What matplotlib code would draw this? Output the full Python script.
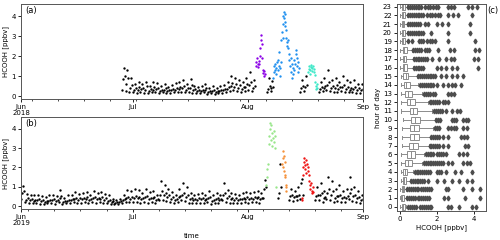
import numpy as np
import pandas as pd
import matplotlib
matplotlib.use('Agg')
import matplotlib.pyplot as plt
import matplotlib.dates as mdates

# ---- data (days counted from 1 June) ----
hours_of_sample = [3, 9, 15, 21]

black_2018_days = list(range(27, 63)) + [66, 67, 75, 76] + list(range(80, 92))
black_2018 = [
    [0.30, 0.85, 1.40, 1.00], [0.25, 0.60, 1.30, 0.90], [0.20, 0.40, 0.90, 0.55],
    [0.18, 0.30, 0.60, 0.40], [0.15, 0.30, 0.70, 0.45], [0.20, 0.35, 0.60, 0.40],
    [0.15, 0.30, 0.70, 0.50], [0.15, 0.25, 0.50, 0.35], [0.20, 0.30, 0.70, 0.45],
    [0.20, 0.35, 0.65, 0.40], [0.15, 0.25, 0.50, 0.30], [0.18, 0.30, 0.60, 0.40],
    [0.15, 0.25, 0.45, 0.30], [0.15, 0.30, 0.55, 0.35], [0.20, 0.30, 0.65, 0.40],
    [0.20, 0.35, 0.70, 0.45], [0.20, 0.40, 0.80, 0.50], [0.18, 0.30, 0.60, 0.40],
    [0.20, 0.40, 0.85, 0.55], [0.15, 0.30, 0.50, 0.35], [0.15, 0.25, 0.45, 0.30],
    [0.15, 0.25, 0.50, 0.30], [0.18, 0.30, 0.60, 0.40], [0.12, 0.20, 0.40, 0.25],
    [0.15, 0.25, 0.50, 0.30], [0.12, 0.20, 0.40, 0.25], [0.15, 0.25, 0.50, 0.30],
    [0.15, 0.30, 0.55, 0.35], [0.20, 0.35, 0.70, 0.45], [0.25, 0.50, 1.00, 0.65],
    [0.30, 0.45, 0.90, 0.60], [0.25, 0.40, 0.80, 0.55], [0.20, 0.35, 0.70, 0.45],
    [0.25, 0.45, 0.90, 0.60], [0.30, 0.55, 1.20, 0.70], [0.25, 0.40, 0.80, 0.50],
    [0.20, 0.35, 0.90, 0.50], [0.25, 0.40, 0.75, 0.45],
    [0.20, 0.40, 0.80, 0.50], [0.25, 0.45, 1.00, 0.55],
    [0.20, 0.35, 0.70, 0.45], [0.25, 0.40, 0.90, 0.50], [0.30, 0.55, 1.30, 0.70],
    [0.25, 0.40, 0.80, 0.50], [0.20, 0.40, 0.90, 0.55], [0.20, 0.35, 0.70, 0.45],
    [0.25, 0.45, 1.00, 0.55], [0.20, 0.35, 0.80, 0.45], [0.18, 0.30, 0.70, 0.40],
    [0.20, 0.35, 0.80, 0.45], [0.15, 0.30, 0.60, 0.40], [0.15, 0.30, 0.60, 0.35],
]

purple_2018_days = [63.2, 63.35, 63.5, 63.65, 63.8, 63.95, 64.1, 64.25, 64.4,
                    64.5, 64.6, 64.7, 64.85, 65.0, 65.15, 65.3, 65.45, 65.6]
purple_2018 = [1.5, 1.7, 1.9, 1.6, 1.45, 1.75, 1.6, 2.0, 2.4,
               2.8, 3.05, 2.6, 1.9, 1.3, 1.15, 1.0, 1.25, 1.1]

blue_2018_days = [67.8, 67.95, 68.1, 68.25, 68.4, 68.55, 68.7, 68.85, 69.0, 69.15,
                  69.3, 69.45, 69.6, 69.75, 69.9, 70.05, 70.2, 70.35, 70.5, 70.6,
                  70.7, 70.8, 70.9, 71.0, 71.1, 71.2, 71.3, 71.45, 71.6, 71.75,
                  71.9, 72.05, 72.2, 72.35, 72.5, 72.65, 72.8, 72.95, 73.1, 73.25,
                  73.4, 73.55, 73.7, 73.85, 74.0, 74.15, 74.3, 74.45, 74.6, 74.75]
blue_2018 = [0.9, 1.2, 1.5, 1.3, 1.6, 1.1, 1.4, 1.7, 1.3, 1.8,
             2.2, 1.5, 1.0, 1.4, 1.7, 2.8, 3.2, 2.9, 3.6, 4.0,
             4.2, 3.9, 4.1, 3.7, 3.5, 3.3, 2.9, 2.7, 2.5, 2.8,
             2.4, 2.1, 1.8, 1.5, 1.9, 1.2, 0.9, 1.6, 1.4, 1.1,
             1.8, 1.3, 1.6, 2.1, 2.3, 1.9, 1.5, 1.7, 1.2, 1.4]

cyan_2018_days = [77.2, 77.35, 77.5, 77.65, 77.8, 77.95, 78.1, 78.25, 78.4,
                  78.55, 78.7, 78.85, 79.0, 79.15, 79.3, 79.45, 79.6, 79.75]
cyan_2018 = [1.2, 1.35, 1.5, 1.3, 1.1, 1.45, 1.55, 1.4, 1.25,
             1.5, 1.35, 1.2, 1.05, 0.7, 0.5, 0.35, 0.6, 0.4]

black_2019_days = list(range(0, 66)) + [69, 72, 73, 74, 75] + list(range(79, 92))
black_2019 = [
    [0.35, 0.70, 1.05, 0.80], [0.20, 0.30, 0.65, 0.40], [0.15, 0.30, 0.60, 0.35],
    [0.15, 0.25, 0.55, 0.30], [0.15, 0.30, 0.60, 0.35], [0.12, 0.25, 0.50, 0.30],
    [0.12, 0.20, 0.45, 0.25], [0.15, 0.25, 0.55, 0.30], [0.15, 0.30, 0.60, 0.35],
    [0.12, 0.25, 0.50, 0.30], [0.20, 0.40, 0.85, 0.50], [0.12, 0.20, 0.40, 0.25],
    [0.15, 0.25, 0.55, 0.30], [0.15, 0.30, 0.60, 0.35], [0.20, 0.35, 0.75, 0.40],
    [0.15, 0.30, 0.65, 0.40], [0.18, 0.35, 0.70, 0.40], [0.20, 0.35, 0.75, 0.45],
    [0.15, 0.30, 0.60, 0.35], [0.20, 0.40, 0.80, 0.45], [0.18, 0.35, 0.70, 0.40],
    [0.20, 0.35, 0.75, 0.45], [0.15, 0.30, 0.65, 0.40], [0.15, 0.25, 0.55, 0.30],
    [0.12, 0.20, 0.35, 0.25], [0.12, 0.18, 0.30, 0.22], [0.12, 0.20, 0.35, 0.25],
    [0.15, 0.30, 0.60, 0.35], [0.20, 0.40, 0.85, 0.45], [0.20, 0.35, 0.80, 0.45],
    [0.20, 0.40, 0.90, 0.50], [0.20, 0.40, 0.85, 0.45], [0.18, 0.35, 0.70, 0.40],
    [0.20, 0.45, 0.90, 0.50], [0.18, 0.35, 0.75, 0.40], [0.20, 0.40, 0.80, 0.45],
    [0.15, 0.30, 0.60, 0.35], [0.30, 0.60, 1.30, 0.80], [0.30, 0.55, 1.10, 0.70],
    [0.25, 0.45, 0.90, 0.55], [0.20, 0.35, 0.75, 0.45], [0.15, 0.30, 0.60, 0.35],
    [0.20, 0.45, 0.90, 0.50], [0.30, 0.55, 1.20, 0.70], [0.25, 0.45, 1.00, 0.60],
    [0.18, 0.35, 0.70, 0.40], [0.15, 0.30, 0.60, 0.35], [0.15, 0.30, 0.65, 0.40],
    [0.18, 0.35, 0.70, 0.40], [0.15, 0.30, 0.60, 0.35], [0.20, 0.40, 0.80, 0.45],
    [0.12, 0.25, 0.55, 0.30], [0.18, 0.35, 0.70, 0.40], [0.15, 0.30, 0.60, 0.35],
    [0.30, 0.55, 1.20, 0.70], [0.20, 0.40, 0.85, 0.50], [0.18, 0.35, 0.70, 0.40],
    [0.15, 0.30, 0.65, 0.40], [0.15, 0.30, 0.60, 0.35], [0.18, 0.35, 0.70, 0.40],
    [0.20, 0.35, 0.75, 0.45], [0.18, 0.35, 0.70, 0.40], [0.20, 0.35, 0.75, 0.45],
    [0.20, 0.40, 0.80, 0.45], [0.18, 0.35, 0.70, 0.40], [0.40, 0.90, 1.35, 1.00],
    [0.40, 0.70, 2.20, 1.00],
    [0.30, 0.50, 0.90, 0.60], [0.25, 0.45, 0.80, 0.50], [0.30, 0.50, 1.00, 0.60],
    [0.35, 1.20, 1.40, 0.60],
    [0.30, 0.50, 1.00, 0.60], [0.30, 0.55, 1.20, 0.70], [0.20, 0.40, 0.80, 0.45],
    [0.35, 0.70, 1.50, 0.90], [0.30, 0.60, 1.30, 0.80], [0.20, 0.40, 0.90, 0.50],
    [0.25, 0.50, 1.10, 0.60], [0.20, 0.40, 0.80, 0.45], [0.20, 0.40, 0.90, 0.50],
    [0.35, 0.70, 1.50, 0.90], [0.25, 0.50, 1.00, 0.60], [0.20, 0.40, 0.80, 0.45],
    [0.15, 0.30, 0.60, 0.35],
]

green_2019_days = [66.0, 66.15, 66.3, 66.45, 66.6, 66.75, 66.9, 67.05, 67.2,
                   67.35, 67.5, 67.65, 67.8, 67.95, 68.1, 68.25, 68.4, 68.55]
green_2019 = [1.1, 1.5, 1.9, 2.2, 3.2, 3.6, 4.3, 4.0, 3.4,
              4.2, 3.8, 3.1, 3.5, 3.9, 3.3, 3.0, 3.6, 1.0]

orange_2019_days = [70.3, 70.4, 70.5, 70.6, 70.7, 70.8, 70.9, 71.0, 71.1, 71.2, 71.3, 71.4]
orange_2019 = [2.2, 2.85, 2.5, 2.0, 2.6, 1.8, 1.6, 2.3, 1.5, 1.0, 0.8, 1.1]

red_2019_days = [75.5, 75.6, 75.75, 75.9, 76.05, 76.2, 76.35, 76.5, 76.65, 76.8, 76.95,
                 77.1, 77.25, 77.4, 77.55, 77.7, 77.85, 78.0, 78.15, 78.3, 78.45, 78.6]
red_2019 = [0.3, 0.4, 1.6, 2.0, 2.5, 2.3, 1.9, 2.1, 1.7, 2.4, 2.2,
            1.8, 2.0, 1.6, 1.3, 1.1, 0.9, 1.2, 0.8, 0.7, 1.0, 0.75]

# hour-of-day box statistics
box_hours = list(range(24))
box_q1 = [0.10, 0.08, 0.09, 0.14, 0.18, 0.27, 0.40, 0.50, 0.54, 0.54, 0.58, 0.52,
          0.36, 0.27, 0.20, 0.18, 0.15, 0.15, 0.15, 0.11, 0.10, 0.10, 0.10, 0.09]
box_med = [0.17, 0.13, 0.15, 0.22, 0.28, 0.42, 0.58, 0.70, 0.75, 0.78, 0.80, 0.72,
           0.55, 0.42, 0.33, 0.30, 0.24, 0.23, 0.23, 0.17, 0.16, 0.15, 0.15, 0.15]
box_q3 = [0.25, 0.20, 0.23, 0.32, 0.40, 0.63, 0.80, 0.95, 1.05, 1.05, 1.08, 0.94,
          0.81, 0.63, 0.55, 0.45, 0.36, 0.35, 0.36, 0.26, 0.25, 0.24, 0.25, 0.27]
box_lo = [0.02, 0.02, 0.02, 0.03, 0.04, 0.05, 0.08, 0.10, 0.12, 0.12, 0.14, 0.06,
          0.04, 0.03, 0.03, 0.03, 0.02, 0.02, 0.02, 0.02, 0.02, 0.02, 0.02, 0.02]
box_hi = [0.35, 0.32, 0.35, 0.55, 0.70, 1.20, 1.30, 1.55, 1.60, 1.80, 1.90, 1.75,
          1.50, 1.20, 1.00, 0.90, 0.68, 0.70, 0.63, 0.42, 0.40, 0.38, 0.38, 0.40]
box_fliers = [
    [0.45, 0.55, 0.65, 0.75, 0.85, 1.1, 1.2, 1.3, 1.4, 1.5, 1.6, 1.7, 2.6, 2.75, 3.2, 3.9, 4.1],
    [0.4, 0.5, 0.6, 0.7, 0.8, 0.95, 1.05, 1.15, 1.25, 1.35, 1.45, 1.55, 2.4, 2.6, 3.5, 4.3],
    [0.4, 0.5, 0.6, 0.7, 0.8, 0.9, 1.0, 1.15, 1.25, 1.35, 1.45, 1.55, 1.7, 2.5, 2.6, 3.4, 3.9, 4.3],
    [0.6, 0.7, 0.8, 0.9, 1.0, 1.1, 1.2, 1.3, 1.5, 2.0, 2.4, 2.8, 3.2, 3.6, 3.9],
    [0.8, 0.9, 1.0, 1.1, 1.2, 1.3, 1.4, 1.5, 1.6, 2.0, 2.1, 2.2, 2.5, 3.0, 3.3, 3.9],
    [1.3, 1.4, 1.5, 1.6, 1.7, 1.8, 1.9, 2.0, 2.1, 2.2, 2.3, 2.6, 2.8, 3.4, 3.6, 3.8],
    [1.4, 1.5, 1.6, 1.7, 1.8, 2.0, 2.1, 2.2, 2.3, 2.5, 3.2, 3.4, 3.6],
    [1.6, 1.7, 1.8, 1.9, 2.0, 2.1, 2.3, 2.6, 3.5, 3.7],
    [1.7, 1.8, 1.9, 2.0, 2.1, 2.3, 2.6, 3.3, 3.45, 3.6],
    [1.9, 2.0, 2.1, 2.6, 2.75, 2.9, 3.05, 3.4, 3.6],
    [1.95, 2.05, 2.15, 2.8, 2.9, 3.05, 3.4, 3.55, 3.7],
    [1.85, 1.95, 2.05, 2.15, 2.25, 2.5, 2.8, 3.1, 3.25],
    [1.6, 1.7, 1.8, 1.9, 2.0, 2.1, 2.3, 2.45, 2.6],
    [1.3, 1.4, 1.5, 1.6, 1.8, 1.9, 2.6, 2.75, 2.9],
    [1.1, 1.2, 1.3, 1.4, 1.5, 1.6, 1.7, 1.8, 2.0, 2.3, 2.6, 2.8, 3.0, 3.3],
    [1.0, 1.1, 1.2, 1.3, 1.4, 1.5, 1.6, 1.7, 1.8, 1.9, 2.2, 2.5, 2.8, 3.1, 3.4],
    [0.75, 0.85, 0.95, 1.05, 1.15, 1.25, 2.0, 2.2, 2.5, 2.8, 3.1, 4.2],
    [0.75, 0.85, 0.95, 1.05, 1.15, 1.25, 1.35, 1.45, 1.75, 2.1, 2.5, 2.75, 2.9, 4.0, 4.2],
    [0.72, 0.82, 0.92, 1.02, 1.12, 1.35, 1.45, 1.55, 2.07, 2.7, 2.9, 4.05, 4.25],
    [0.45, 0.63, 1.05, 1.15, 1.26, 1.45, 1.6, 1.75, 1.9, 2.6, 4.05],
    [0.45, 0.55, 0.65, 0.75, 0.85, 0.95, 1.05, 1.15, 1.26, 1.7, 2.6, 3.8],
    [0.45, 0.55, 0.65, 0.75, 0.85, 1.0, 1.08, 1.35, 1.5, 2.0, 2.25, 2.6, 3.8],
    [0.45, 0.55, 0.65, 0.75, 0.85, 0.95, 1.05, 1.15, 1.25, 1.45, 1.6, 1.75, 1.9, 2.05,
     2.15, 2.6, 2.85, 3.15, 3.9],
    [0.45, 0.55, 0.65, 0.75, 0.85, 0.95, 1.05, 1.15, 1.35, 1.5, 1.65, 1.8, 1.95, 2.07,
     2.6, 2.75, 2.9, 3.7, 3.9, 4.15],
]

FS = 5


def to_time(year, days):
    return pd.Timestamp(f'{year}-06-01') + pd.to_timedelta(np.asarray(days, float), unit='D')


def daily_series(year, days, rows):
    t, v = [], []
    for d, row in zip(days, rows):
        for h, val in zip(hours_of_sample, row):
            t.append(d + h / 24.0)
            v.append(val)
    return to_time(year, t), v


def style_axes(ax):
    ax.tick_params(labelsize=FS, length=2.5, width=0.6, pad=1.2)
    for s in ax.spines.values():
        s.set_linewidth(0.7)
        s.set_color('#555555')


def style_time_axis(ax, year, label):
    ax.set_xlim(pd.Timestamp(f'{year}-06-01'), pd.Timestamp(f'{year}-09-01'))
    ax.set_ylim(-0.15, 4.6)
    ax.set_yticks([0, 1, 2, 3, 4])
    ax.set_xticks([pd.Timestamp(f'{year}-{m:02d}-01') for m in (6, 7, 8, 9)])
    ax.set_xticklabels([f'Jun\n{year}', 'Jul', 'Aug', 'Sep'], linespacing=0.95)
    ax.xaxis.set_minor_locator(mdates.WeekdayLocator(byweekday=mdates.MO))
    style_axes(ax)
    ax.tick_params(which='minor', length=1.5, width=0.5)
    ax.set_ylabel('HCOOH [ppbv]', fontsize=FS, labelpad=1.5)
    ax.text(0.012, 0.975, label, transform=ax.transAxes, fontsize=FS + 1, va='top')


fig = plt.figure(figsize=(5, 2.4), dpi=100)
ax_a = fig.add_axes([0.042, 0.5875, 0.684, 0.3955])
ax_b = fig.add_axes([0.042, 0.129, 0.684, 0.3835])
ax_c = fig.add_axes([0.794, 0.121, 0.178, 0.862])

dot = dict(marker='o', linestyle='none', ms=1.7, mew=0)

t, v = daily_series(2018, black_2018_days, black_2018)
ax_a.plot(t, v, color='black', **dot)
ax_a.plot(to_time(2018, purple_2018_days), purple_2018, color='#8a00e6', **dot)
ax_a.plot(to_time(2018, blue_2018_days), blue_2018, color='#1e8fef', **dot)
ax_a.plot(to_time(2018, cyan_2018_days), cyan_2018, color='#3ee8c8', **dot)
style_time_axis(ax_a, 2018, '(a)')

t, v = daily_series(2019, black_2019_days, black_2019)
ax_b.plot(t, v, color='black', **dot)
ax_b.plot(to_time(2019, green_2019_days), green_2019, color='#98e68a', **dot)
ax_b.plot(to_time(2019, orange_2019_days), orange_2019, color='#f5913a', **dot)
ax_b.plot(to_time(2019, red_2019_days), red_2019, color='#ee1111', **dot)
style_time_axis(ax_b, 2019, '(b)')
ax_b.set_xlabel('time', fontsize=FS, labelpad=5)

stats = []
for i in range(24):
    stats.append(dict(med=box_med[i], q1=box_q1[i], q3=box_q3[i],
                      whislo=box_lo[i], whishi=box_hi[i], fliers=box_fliers[i]))
grey = '#8c8c8c'
ax_c.bxp(stats, positions=box_hours, vert=False, widths=0.7, patch_artist=True,
         boxprops=dict(facecolor='white', edgecolor=grey, linewidth=0.7),
         medianprops=dict(color=grey, linewidth=0.7),
         whiskerprops=dict(color=grey, linewidth=0.7),
         capprops=dict(color=grey, linewidth=0.7),
         flierprops=dict(marker='d', markersize=2.4, markerfacecolor='#4d4d4d',
                         markeredgecolor='#4d4d4d', linestyle='none'))
ax_c.set_ylim(-0.5, 23.3)
ax_c.set_xlim(-0.16, 4.65)
ax_c.set_yticks(box_hours)
ax_c.set_yticklabels([str(h) for h in box_hours])
ax_c.set_xticks([0, 2, 4])
style_axes(ax_c)
ax_c.set_xlabel('HCOOH [ppbv]', fontsize=FS, labelpad=1.5)
ax_c.set_ylabel('hour of day', fontsize=FS, labelpad=1.5)
fig.text(0.975, 0.955, '(c)', fontsize=FS + 1, ha='left', va='center')

fig.savefig('out.png', dpi=100)
